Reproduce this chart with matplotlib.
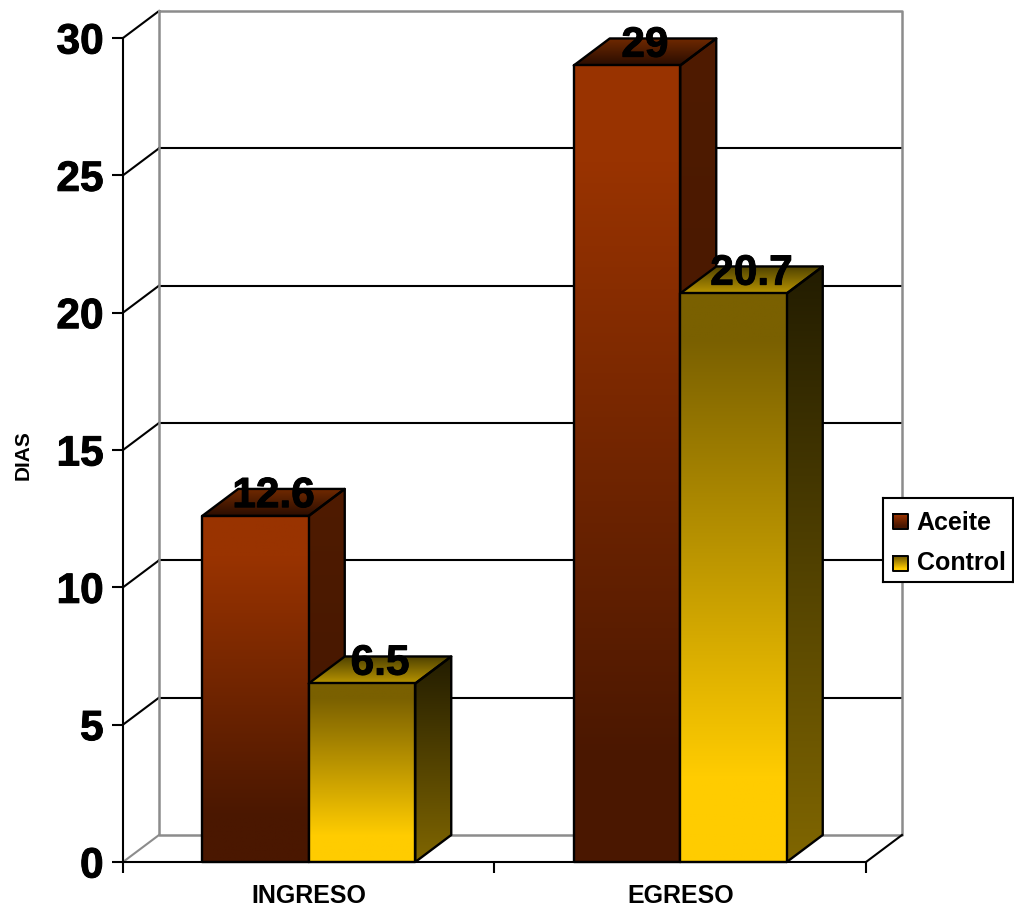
import numpy as np
import matplotlib.pyplot as plt
import matplotlib.patheffects as pe
from matplotlib.colors import LinearSegmentedColormap
from matplotlib.patches import Polygon

plt.rcParams['font.family'] = ['Liberation Sans', 'DejaVu Sans']
plt.rcParams['font.weight'] = 'bold'

# data
categories = ['INGRESO', 'EGRESO']
series_names = ['Aceite', 'Control']
aceite = [12.6, 29]
control = [6.5, 20.7]
value_labels = [['12.6', '29'], ['6.5', '20.7']]
y_ticks = [0, 5, 10, 15, 20, 25, 30]

# gradient colours: (top/back -> bottom/front)
front_colors = [[(0, '#993300'), (0.12, '#993300'), (0.87, '#4a1700'), (1, '#4a1700')],
                [(0, '#7a6000'), (0.08, '#7a6000'), (0.85, '#ffcc00'), (1, '#ffcc00')]]
side_colors = [['#4f1b00', '#421500'], ['#221c00', '#806600']]
top_colors = [['#702900', '#2a0d00'], ['#4d4000', '#b89400']]

W, H = 1014, 910
fig = plt.figure(figsize=(W / 100, H / 100), dpi=100)
ax = fig.add_axes([123 / W, 1 - 862 / H, 743 / W, 824 / H])
ax.set_xlim(0, 2)
ax.set_ylim(0, 30)

# depth of the fake 3D box, in data units
dx = 36 / 371.5
dy = 27 / 27.47
bar_w = 106.5 / 371.5
heavy = [pe.withStroke(linewidth=0.7, foreground='black')]


def grad_poly(pts, colors, zorder):
    pts = np.array(pts)
    cmap = LinearSegmentedColormap.from_list('g', colors)
    grad = np.linspace(0, 1, 256).reshape(-1, 1)
    ext = [pts[:, 0].min(), pts[:, 0].max(), pts[:, 1].min(), pts[:, 1].max()]
    im = ax.imshow(grad, cmap=cmap, extent=ext, aspect='auto', origin='upper', zorder=zorder)
    outline = Polygon(pts, closed=True, facecolor='none', edgecolor='black', linewidth=1.7,
                      joinstyle='round', zorder=zorder + 0.1, clip_on=False, transform=ax.transData)
    ax.add_patch(outline)
    clip = Polygon(pts, closed=True, transform=ax.transData)
    im.set_clip_path(clip)


# back wall and floor
grey = '#8c8c8c'
for v in y_ticks[1:-1]:
    ax.plot([0, dx], [v, v + dy], color='black', lw=1.5, clip_on=False, zorder=1)
    ax.plot([dx, 2 + dx], [v + dy, v + dy], color='black', lw=1.5, clip_on=False, zorder=1)
ax.plot([0, dx], [30, 30 + dy], color='black', lw=1.5, clip_on=False, zorder=1)
ax.plot([dx, 2 + dx, 2 + dx, dx, dx], [30 + dy, 30 + dy, dy, dy, 30 + dy], color=grey, lw=1.8, clip_on=False, zorder=1)
ax.plot([0, dx], [0, dy], color=grey, lw=1.5, clip_on=False, zorder=1)
ax.plot([2, 2 + dx], [0, dy], color='black', lw=1.5, clip_on=False, zorder=1)

# bars, each category left to right so that the later bar covers the earlier one
for i, cat in enumerate(categories):
    c = i + 0.5
    for s, vals in enumerate([aceite, control]):
        x0 = c - bar_w + s * bar_w
        x1 = x0 + bar_w
        v = vals[i]
        z = 3 + s * 2
        grad_poly([(x1, 0), (x1 + dx, dy), (x1 + dx, v + dy), (x1, v)], side_colors[s], z)
        grad_poly([(x0, v), (x1, v), (x1 + dx, v + dy), (x0 + dx, v + dy)], top_colors[s], z)
        grad_poly([(x0, 0), (x1, 0), (x1, v), (x0, v)], front_colors[s], z + 0.5)
        ax.text((x0 + x1) / 2 + dx / 2, v + 0.32, value_labels[s][i], ha='center', va='baseline',
                fontsize=30.5, fontweight='bold', color='black', zorder=10, path_effects=heavy)

ax.set_xlim(0, 2)
ax.set_ylim(0, 30)

# axes
for side in ['top', 'right']:
    ax.spines[side].set_visible(False)
for side in ['left', 'bottom']:
    ax.spines[side].set_linewidth(1.5)
    ax.spines[side].set_zorder(8)
ax.patch.set_alpha(0)
ax.set_yticks(y_ticks)
ax.tick_params(axis='y', length=8, width=1.5, pad=6, labelsize=30.5)
for lab in ax.get_yticklabels():
    lab.set_path_effects(heavy)
ax.set_xticks([0, 1, 2])
ax.set_xticklabels([])
ax.tick_params(axis='x', length=8, width=1.5)
ax.set_xticks([0.5, 1.5], minor=True)
ax.set_xticklabels(categories, minor=True, fontsize=18, fontweight='bold')
ax.tick_params(axis='x', which='minor', length=0, pad=15.5)
ax.set_ylabel('DIAS', fontsize=15, fontweight='bold')
ax.yaxis.set_label_coords(-90 / 743, 407 / 824)

# legend box
lax = fig.add_axes([883 / W, 1 - 582 / H, 130 / W, 84 / H], zorder=20)
lax.set_xlim(0, 130)
lax.set_ylim(84, 0)
lax.set_xticks([])
lax.set_yticks([])
for sp in lax.spines.values():
    sp.set_linewidth(1.5)
swatch_y = [15.5, 58]
text_y = [25, 65.5]
for s, name in enumerate(series_names):
    y0 = swatch_y[s]
    cmap = LinearSegmentedColormap.from_list('l', front_colors[s])
    lax.imshow(np.linspace(0, 1, 64).reshape(-1, 1), cmap=cmap, aspect='auto',
               extent=[10, 25, y0 + 15, y0], origin='upper', zorder=2)
    lax.plot([10, 25, 25, 10, 10], [y0, y0, y0 + 15, y0 + 15, y0], color='black', lw=1.4, zorder=3)
    lax.text(33.5, text_y[s], name, fontsize=18, fontweight='bold', va='center', ha='left')
lax.set_xlim(0, 130)
lax.set_ylim(84, 0)

plt.savefig('out.png', dpi=100)
